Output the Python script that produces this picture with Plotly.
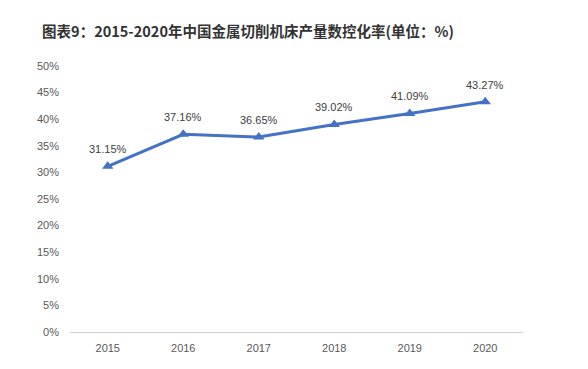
import plotly.graph_objects as go

years = ["2015", "2016", "2017", "2018", "2019", "2020"]
rates = [31.15, 37.16, 36.65, 39.02, 41.09, 43.27]
tick_vals = [0, 5, 10, 15, 20, 25, 30, 35, 40, 45, 50]
tick_text = [f"{v}%" for v in tick_vals]
label_text = [f"{v:.2f}%" for v in rates]

fig = go.Figure()
fig.add_trace(go.Scatter(
    x=years, y=rates, mode="lines+markers",
    line=dict(color="#4472C4", width=3),
    marker=dict(symbol="triangle-up", size=10, color="#4472C4"),
    cliponaxis=False,
))

for i, (y, t) in enumerate(zip(rates, label_text)):
    fig.add_annotation(
        x=i, y=y, text=t, showarrow=False, yshift=17,
        font=dict(family="Liberation Sans, Arial", size=11, color="#404040"),
    )

fig.update_layout(
    width=588, height=369,
    margin=dict(l=62, r=73, t=58, b=45),
    paper_bgcolor="white", plot_bgcolor="white",
    showlegend=False,
    title=dict(
        text="<b>图表9：2015-2020年中国金属切削机床产量数控化率(单位：%)</b>",
        font=dict(family="Noto Sans CJK SC", size=14.5, color="#333333"),
        x=240/588, xanchor="center", y=1-24/369, yanchor="middle",
    ),
    xaxis=dict(
        type="category", categoryorder="array", categoryarray=years,
        range=[-0.5, 5.5], showgrid=False, zeroline=False,
        showline=True, linecolor="#d0d0d0", linewidth=1,
        ticks="", ticklabelstandoff=6,
        tickfont=dict(family="Liberation Sans, Arial", size=11, color="#595959"),
    ),
    yaxis=dict(
        range=[0, 50], tickvals=tick_vals, ticktext=tick_text,
        showgrid=False, zeroline=False, showline=False, ticks="",
        tickfont=dict(family="Liberation Sans, Arial", size=11, color="#595959"),
        ticklabelstandoff=10,
    ),
)

fig.write_html("out.html")
